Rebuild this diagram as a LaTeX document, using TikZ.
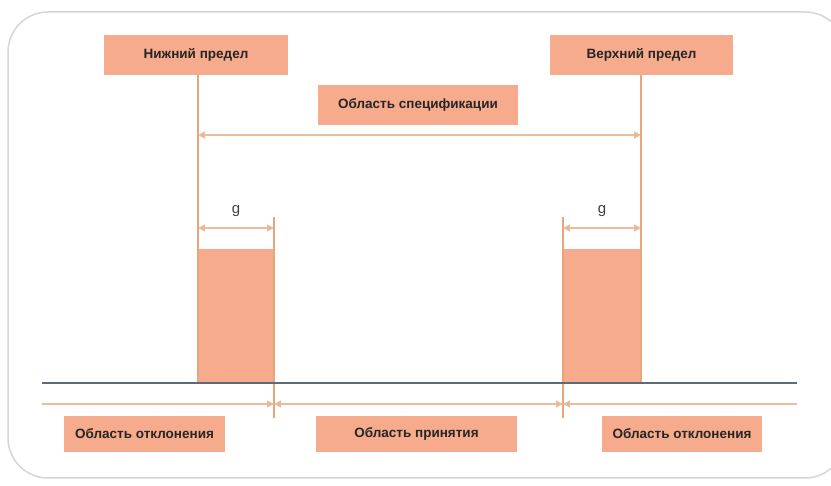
\documentclass[tikz,border=0pt]{standalone}
\usepackage{fontspec}
\setmainfont{Liberation Sans}
\usetikzlibrary{arrows.meta}
\definecolor{boxfill}{HTML}{F6AB8C}
\definecolor{lineor}{HTML}{E9A57A}
\definecolor{lineli}{HTML}{EBBC9E}
\definecolor{darkline}{HTML}{5C6B7A}
\definecolor{frame}{HTML}{D6D6D6}
\tikzset{
  lbl/.style={fill=boxfill, inner sep=0pt, font=\bfseries\fontsize{13.5}{15}\selectfont, text=black!85},
  oline/.style={draw=lineor, line width=1.2pt},
  tip/.tip={Triangle[length=7pt,width=7pt,fill=lineor]},
  dim/.style={draw=lineli, line width=1.6pt, {tip}-{tip}},
  dimr/.style={draw=lineli, line width=1.6pt, -{tip}},
  diml/.style={draw=lineli, line width=1.6pt, {tip}-},
}
\begin{document}
\begin{tikzpicture}[x=1pt,y=-1pt]
\useasboundingbox (0,0) rectangle (831,486);
\fill[white] (0,0) rectangle (831,486);
\draw[frame, line width=1.5pt, rounded corners=40pt] (8,12) rectangle (845,478);
% filled regions
\fill[boxfill] (198,249) rectangle (274,383);
\fill[boxfill] (563,249) rectangle (641,383);
% label boxes
\node[lbl, minimum width=184pt, minimum height=40pt] (low) at (196,55) {Нижний предел};
\node[lbl, minimum width=183pt, minimum height=40pt] (up) at (641.5,55) {Верхний предел};
\node[lbl, minimum width=200pt, minimum height=40pt] (spec) at (418,105) {Область спецификации};
\node[lbl, minimum width=161pt, minimum height=36pt] (rejl) at (144.5,434) {Область отклонения};
\node[lbl, minimum width=201pt, minimum height=36pt] (acc) at (416.5,434) {Область принятия};
\node[lbl, minimum width=160pt, minimum height=36pt] (rejr) at (682,434) {Область отклонения};
% coordinates
\coordinate (lv) at (198,383);
\coordinate (rv) at (641,383);
\coordinate (lt) at (274,217);
\coordinate (ltb) at (274,418);
\coordinate (rt) at (563,217);
\coordinate (rtb) at (563,418);
\coordinate (sl) at (198,135);
\coordinate (sr) at (641,135);
\coordinate (gl1) at (198,228);
\coordinate (gl2) at (274,228);
\coordinate (gr1) at (563,228);
\coordinate (gr2) at (641,228);
\coordinate (bL) at (42,404);
\coordinate (b1) at (274,404);
\coordinate (b2) at (563,404);
\coordinate (bR) at (797,404);
\coordinate (dL) at (42,383);
\coordinate (dR) at (797,383);
% vertical lines
\draw[oline] (low.south -| lv) -- (lv);
\draw[oline] (up.south -| rv) -- (rv);
\draw[oline] (lt) -- (ltb);
\draw[oline] (rt) -- (rtb);
% dimension arrows
\draw[dim] (sl) -- (sr);
\draw[dim] (gl1) -- (gl2);
\draw[dim] (gr1) -- (gr2);
\node[font=\fontsize{15}{17}\selectfont, text=black!75] (g1) at (236,211) {g};
\node[font=\fontsize{15}{17}\selectfont, text=black!75] (g2) at (602,211) {g};
% base lines
\draw[darkline, line width=1.6pt] (dL) -- (dR);
\draw[dimr] (bL) -- (b1);
\draw[dim] (b1) -- (b2);
\draw[diml] (b2) -- (bR);
\end{tikzpicture}
\end{document}
